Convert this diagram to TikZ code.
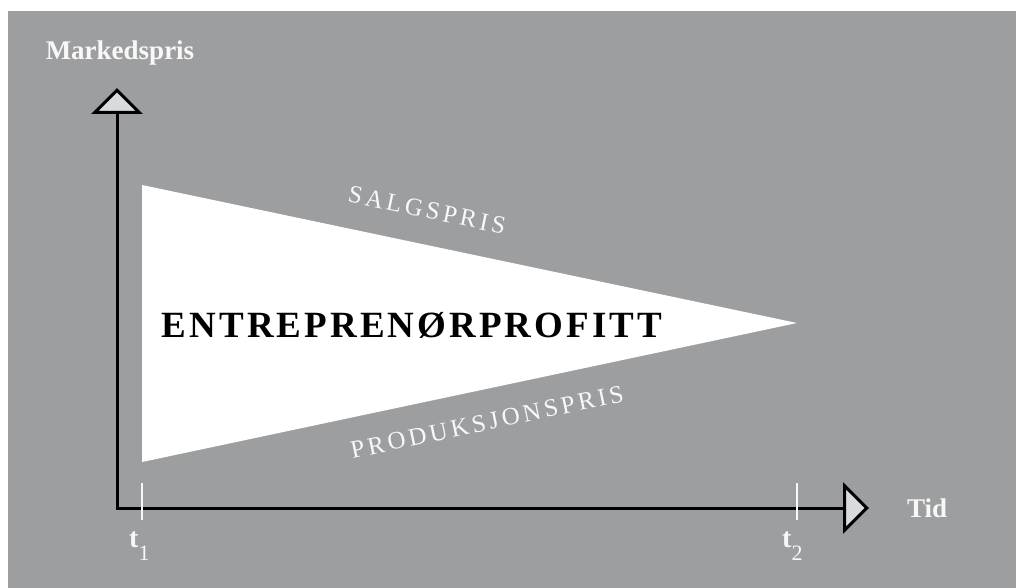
\documentclass[tikz,border=0pt]{standalone}
\usepackage{fontspec}
\setmainfont{Liberation Serif}
\newfontfamily\widecaps[LetterSpace=14]{Liberation Serif}
\newfontfamily\bigcaps[LetterSpace=8.3]{Liberation Serif}
\usetikzlibrary{arrows.meta}
\definecolor{bggray}{RGB}{157,158,160}
\definecolor{tipfill}{RGB}{217,218,220}
\definecolor{labelwhite}{RGB}{248,248,248}
\newcommand{\tsub}[1]{t\raisebox{-13pt}{\mdseries\fontsize{22}{24}\selectfont #1}}
\tikzset{
  axisline/.style={line width=3pt, line join=miter, black,
    {Triangle[length=26pt 0 0,width=51pt 0 0,fill=tipfill,line join=miter]}-{Triangle[length=26pt 0 0,width=51pt 0 0,fill=tipfill,line join=miter]}},
  tickmark/.style={line width=2pt, labelwhite},
  axislabel/.style={text=labelwhite, font=\bfseries\fontsize{27}{30}\selectfont, inner sep=0pt},
  edgelabel/.style={text=labelwhite, font=\widecaps\fontsize{25}{28}\selectfont, inner sep=0pt},
  ticklabel/.style={text=labelwhite, font=\bfseries\fontsize{28}{30}\selectfont, inner sep=0pt, anchor=base west},
}
\begin{document}
\begin{tikzpicture}[x=1pt,y=-1pt]
\useasboundingbox (0,0) rectangle (1016,588);
\fill[bggray] (8,11) rectangle (1016,588);
% profit wedge
\coordinate (wtop) at (142,185);
\coordinate (wbot) at (142,462);
\coordinate (wapex) at (797,323);
\fill[white] (wtop) -- (wapex) -- (wbot) -- cycle;
% axes
\coordinate (origin) at (117,508);
\coordinate (ytip) at (117,88);
\coordinate (xtip) at (869,508);
\draw[axisline] (ytip) -- (origin) -- (xtip);
% ticks
\coordinate (t1top) at (142,483);
\coordinate (t1bot) at (142,520);
\coordinate (t2top) at (797,483);
\coordinate (t2bot) at (797,520);
\draw[tickmark] (t1top) -- (t1bot);
\draw[tickmark] (t2top) -- (t2bot);
\node[ticklabel] (t1) at (129,547) {\tsub{1}};
\node[ticklabel] (t2) at (782,547) {\tsub{2}};
% axis labels
\node[axislabel, anchor=base] (ylab) at (120,60) {Markedspris};
\node[axislabel, anchor=west] (xlab) at (907,508) {Tid};
% wedge labels
\node[edgelabel, rotate=-11.8] (salg) at (427,210) {SALGSPRIS};
\node[edgelabel, rotate=11.9] (prod) at (487,422) {PRODUKSJONSPRIS};
\node[inner sep=0pt, font=\bigcaps\bfseries\fontsize{37}{40}\selectfont] (profit) at (412,325) {ENTREPRENØRPROFITT};
\end{tikzpicture}
\end{document}
